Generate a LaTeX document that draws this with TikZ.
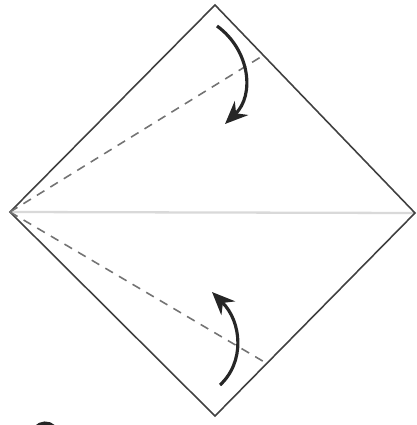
\documentclass[tikz,border=0pt]{standalone}
\usetikzlibrary{arrows.meta}
\tikzset{
	edge/.style={draw=black!75, line width=0.9pt},
	crease/.style={draw=black!15, line width=1.3pt},
	valley/.style={draw=black!55, dashed, dash pattern=on 5pt off 4pt, line width=0.9pt},
	fold/.style={line width=1.8pt, black!85, -{Stealth[length=13pt,width=11pt]}},
}
\begin{document}
\begin{tikzpicture}[x=0.02cm, y=0.02cm]
	\useasboundingbox (0,0) rectangle (416,-425);
	\coordinate (top) at (215,-5);
	\coordinate (left) at (10,-212);
	\coordinate (right) at (415,-213);
	\coordinate (bottom) at (215,-416);
	\coordinate (up) at (264,-55);
	\coordinate (down) at (266,-363);
	% square turned on its corner
	\draw[crease] (left) -- (right);
	\draw[edge, line join=miter] (top) -- (right) -- (bottom) -- (left) -- cycle;
	\draw[valley] (left) -- (up);
	\draw[valley] (left) -- (down);
	% fold arrows
	\coordinate (a1) at (217,-26);
	\coordinate (a2) at (225,-124);
	\coordinate (b1) at (220,-385);
	\coordinate (b2) at (212,-292);
	\draw[fold] (a1) .. controls (250,-50) and (255,-95) .. (a2);
	\draw[fold] (b1) .. controls (245,-362) and (242,-322) .. (b2);
	% cut off mark at the bottom
	\draw[line width=3pt, black!85] (34,-432) arc (160:20:12);
\end{tikzpicture}
\end{document}
